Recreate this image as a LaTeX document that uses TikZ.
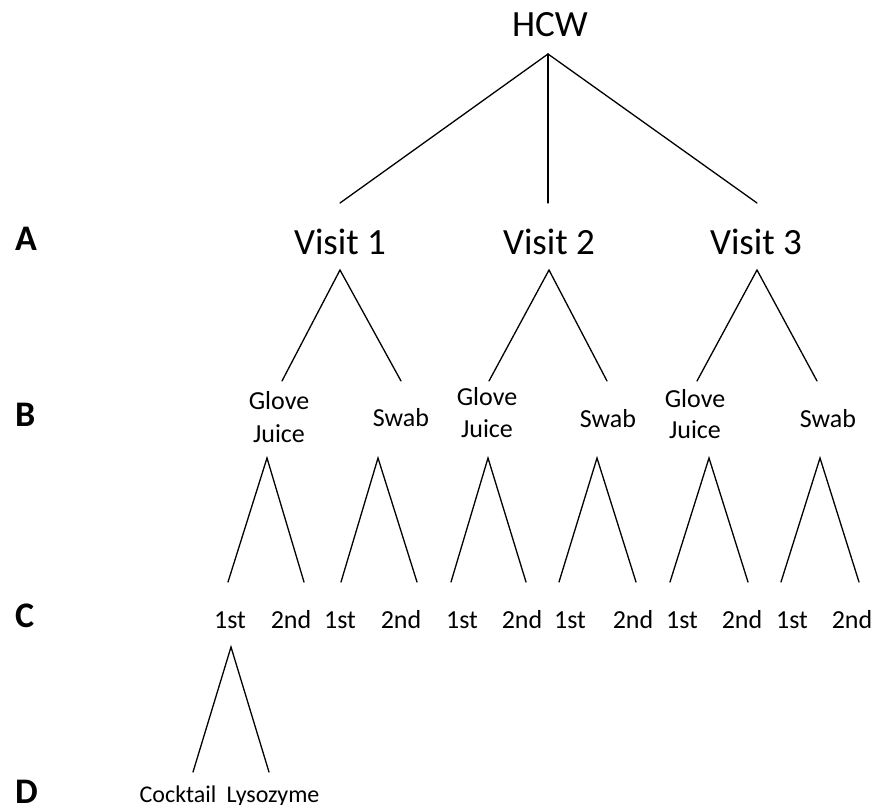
\documentclass[tikz,border=0pt]{standalone}
\usepackage{fontspec}
\setmainfont{Carlito}
\begin{document}
\begin{tikzpicture}[x=1pt,y=-1pt,
  big/.style={font=\fontsize{37}{44}\selectfont, inner sep=0pt, anchor=base},
  mid/.style={font=\fontsize{26}{31}\selectfont, inner sep=0pt, anchor=base},
  small/.style={font=\fontsize{24}{29}\selectfont, inner sep=0pt, anchor=base},
  lvl/.style={font=\fontsize{36}{43}\selectfont\bfseries, inner sep=0pt, anchor=base west},
  edge/.style={line width=1.3pt, line cap=round}]
\useasboundingbox (0,0) rectangle (872,805);
% level labels
\node[lvl] (lA) at (15,250) {A};
\node[lvl] (lB) at (15,426) {B};
\node[lvl] (lC) at (15,627) {C};
\node[lvl] (lD) at (15,803) {D};
% texts
\node[big] (hcw) at (550,37) {HCW};
\node[big] (v1) at (340,254) {Visit 1};
\node[big] (v2) at (549,254) {Visit 2};
\node[big] (v3) at (756,254) {Visit 3};
\node[mid] (g1) at (279,409) {Glove};
\node[mid] (j1) at (279,442) {Juice};
\node[mid] (s1) at (401,426) {Swab};
\node[mid] (g2) at (487,405) {Glove};
\node[mid] (j2) at (487,437) {Juice};
\node[mid] (s2) at (608,427) {Swab};
\node[mid] (g3) at (695,407) {Glove};
\node[mid] (j3) at (695,438) {Juice};
\node[mid] (s3) at (828,427) {Swab};
\foreach \x/\t [count=\i] in {230/1st,291/2nd,340/1st,401/2nd,462/1st,522/2nd,570/1st,633/2nd,682/1st,742/2nd,792/1st,852/2nd}
  \node[mid] (c\i) at (\x,628) {\t};
\node[small] (ck) at (178,802) {Cocktail};
\node[small] (ly) at (273,802) {Lysozyme};
% connector end points
\coordinate (hA) at (548,54);
\coordinate (hL) at (340,203);
\coordinate (hM) at (548,203);
\coordinate (hR) at (757,203);
\foreach \a/\l/\r [count=\i] in {340/282/401,549/489/607,757/697/817}{
  \coordinate (va\i) at (\a,270);
  \coordinate (vl\i) at (\l,381);
  \coordinate (vr\i) at (\r,381);
}
\foreach \a/\l/\r [count=\i] in {267/228/304,378/341/417,488/451/526,597/559/636,709/670/748,820/781/859}{
  \coordinate (ba\i) at (\a,458);
  \coordinate (bl\i) at (\l,582);
  \coordinate (br\i) at (\r,582);
}
\coordinate (da) at (231,647);
\coordinate (dl) at (193,772);
\coordinate (dr) at (269,772);
% connectors
\draw[edge] (hL) -- (hA) -- (hR);
\draw[edge] (hA) -- (hM);
\foreach \i in {1,2,3} \draw[edge] (vl\i) -- (va\i) -- (vr\i);
\foreach \i in {1,...,6} \draw[edge] (bl\i) -- (ba\i) -- (br\i);
\draw[edge] (dl) -- (da) -- (dr);
\end{tikzpicture}
\end{document}
